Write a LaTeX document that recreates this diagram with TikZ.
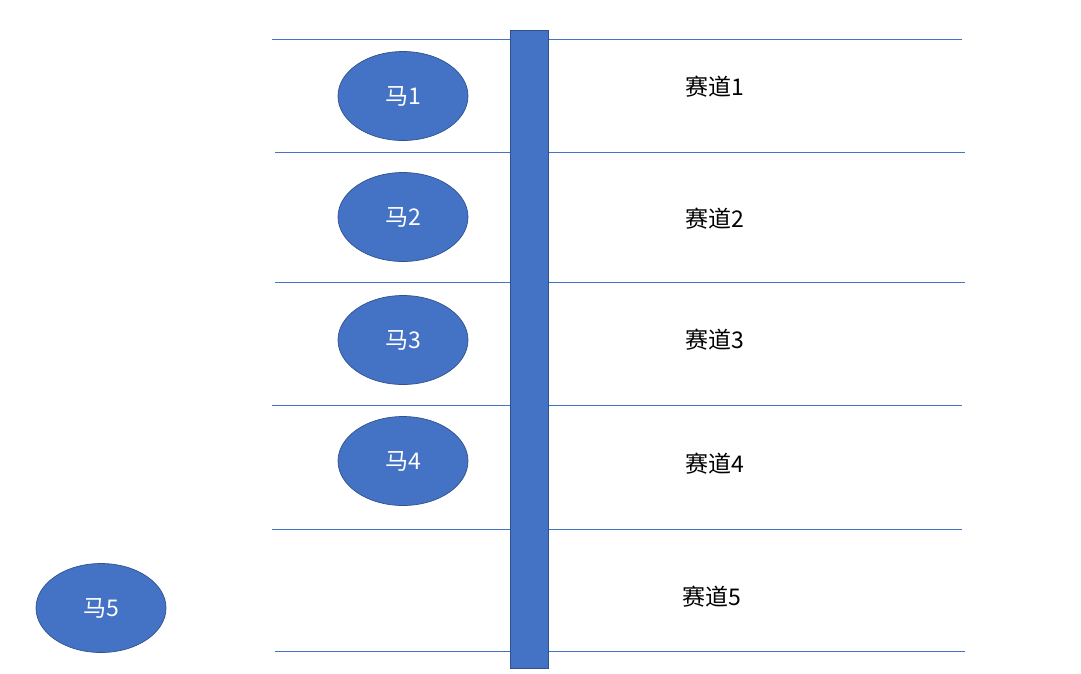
\documentclass[tikz,border=0pt]{standalone}
\usepackage{fontspec}
\newfontfamily\cjk{Noto Sans CJK SC}
\usetikzlibrary{shapes.geometric}
\definecolor{horseblue}{HTML}{4472C4}
\definecolor{edgeblue}{HTML}{2F528F}
\begin{document}
\begin{tikzpicture}[x=1pt,y=-1pt]
    \tikzstyle{horse}=[ellipse, fill=horseblue, draw=edgeblue, line width=0.7pt, minimum width=130, minimum height=89, inner sep=0pt, text=white, font=\cjk\fontsize{23}{27}\selectfont]
    \tikzstyle{lanetext}=[inner sep=0pt, font=\cjk\fontsize{23}{27}\selectfont]
    \tikzstyle{laneline}=[horseblue, line width=1pt]
    \useasboundingbox (0,0) rectangle (1081,673);
    \draw [laneline] (272,39) -- (962,39);
    \draw [laneline] (275,152) -- (965,152);
    \draw [laneline] (275,282) -- (965,282);
    \draw [laneline] (272,405) -- (962,405);
    \draw [laneline] (272,529) -- (962,529);
    \draw [laneline] (275,651) -- (965,651);
    \draw [fill=horseblue, draw=edgeblue, line width=0.7pt] (510,30) rectangle (548,668);
    \node [horse] (horse1) at (403,96) {马1};
    \node [horse] (horse2) at (403,217) {马2};
    \node [horse] (horse3) at (403,340) {马3};
    \node [horse] (horse4) at (403,461) {马4};
    \node [horse] (horse5) at (101,608) {马5};
    \node [lanetext] (lane1) at (715,87) {赛道1};
    \node [lanetext] (lane2) at (715,219) {赛道2};
    \node [lanetext] (lane3) at (715,340) {赛道3};
    \node [lanetext] (lane4) at (715,464) {赛道4};
    \node [lanetext] (lane5) at (712,597) {赛道5};
\end{tikzpicture}
\end{document}
